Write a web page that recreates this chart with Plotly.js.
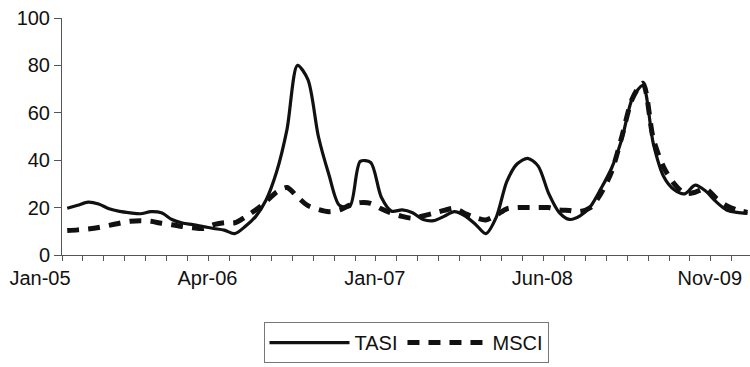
<!DOCTYPE html>
<html>
<head>
<meta charset="utf-8">
<script src="https://cdn.plot.ly/plotly-3.0.1.min.js"></script>
<style>
  html, body { margin: 0; padding: 0; background: #fff; }
  #chart { width: 750px; height: 367px; }
</style>
</head>
<body>
<div id="chart"></div>
<script>
// Category index (one point per period)
const periods = Array.from({length: 66}, (_, i) => i);

const tasi = [
  19.7, 21.0, 22.3, 21.5, 19.5, 18.4, 17.8, 17.4, 18.3, 17.8,
  15.0, 13.5, 12.8, 12.0, 11.2, 10.5, 9.0, 12.0, 16.2, 23.2,
  35.0, 53.0, 80.0, 74.0, 50.0, 34.0, 21.0, 20.5, 39.5, 39.0,
  24.5, 18.5, 19.0, 17.8, 15.0, 14.5, 16.3, 18.3, 16.5, 13.0,
  9.0, 16.0, 31.0, 38.5, 40.8, 37.5, 26.0, 18.0, 15.0, 16.5,
  20.5, 28.0, 36.5, 49.0, 66.0, 71.5, 47.0, 33.0, 27.5, 25.8,
  29.5, 27.0, 22.5, 19.0, 18.0, 17.5
];

const msci = [
  10.3, 10.6, 11.0, 11.6, 12.5, 13.4, 14.2, 14.5, 14.2, 13.4,
  12.8, 12.0, 11.5, 11.2, 12.8, 13.6, 13.6, 16.0, 19.0, 22.5,
  26.5, 28.5, 24.5, 20.8, 19.2, 18.3, 19.0, 21.0, 22.1, 21.8,
  19.5, 17.6, 16.3, 15.5, 16.5, 17.6, 18.8, 19.7, 17.5, 15.8,
  14.8, 16.8, 19.5, 20.0, 20.0, 20.0, 20.0, 19.0, 18.8, 18.3,
  20.0, 26.0, 35.0, 50.0, 66.0, 72.5, 49.0, 37.0, 30.0, 26.0,
  26.5, 28.0, 24.0, 20.8, 19.0, 18.0
];

const tickPositions = [-0.5, 15.5, 31.5, 47.5, 63.5];
const tickLabels = ['Jan-05', 'Apr-06', 'Jan-07', 'Jun-08', 'Nov-09'];
const yTicks = [0, 20, 40, 60, 80, 100];

const FONT = 'Liberation Sans, Arial, Helvetica, sans-serif';

const traces = [
  {
    x: periods, y: tasi, name: 'TASI', type: 'scatter', mode: 'lines',
    line: {color: '#111', width: 3.2, shape: 'spline', smoothing: 0.8}
  },
  {
    x: periods, y: msci, name: 'MSCI', type: 'scatter', mode: 'lines',
    line: {color: '#111', width: 5, dash: '12px,9px', shape: 'spline', smoothing: 0.8}
  }
];

const layout = {
  width: 750, height: 367,
  margin: {l: 62, r: 0, t: 18, b: 112},
  paper_bgcolor: '#fff', plot_bgcolor: '#fff',
  font: {family: FONT, size: 20, color: '#111'},
  showlegend: true,
  xaxis: {
    range: [-0.5, 65.24],
    tickmode: 'array', tickvals: tickPositions, ticktext: tickLabels,
    ticks: 'outside', ticklen: 5, tickwidth: 1, tickcolor: '#555',
    ticklabelshift: -22, ticklabeloverflow: 'allow',
    minor: {tick0: -0.5, dtick: 2, ticks: 'outside', ticklen: 5, tickwidth: 1, tickcolor: '#555'},
    showline: true, linecolor: '#555', linewidth: 1,
    showgrid: false, zeroline: false,
    tickfont: {family: FONT, size: 20, color: '#111'}
  },
  yaxis: {
    range: [0, 100],
    tickmode: 'array', tickvals: yTicks,
    ticks: 'outside', ticklen: 7, tickwidth: 1, tickcolor: '#555',
    showline: true, linecolor: '#555', linewidth: 1,
    showgrid: false, zeroline: false,
    tickfont: {family: FONT, size: 20, color: '#111'}
  },
  legend: {
    orientation: 'h', x: 0.5, xanchor: 'center', y: -0.283, yanchor: 'top',
    bordercolor: '#777', borderwidth: 1, bgcolor: '#fff',
    itemwidth: 80,
    font: {family: FONT, size: 20, color: '#111'}
  }
};

Plotly.newPlot('chart', traces, layout, {displayModeBar: false, staticPlot: true});
</script>
</body>
</html>
